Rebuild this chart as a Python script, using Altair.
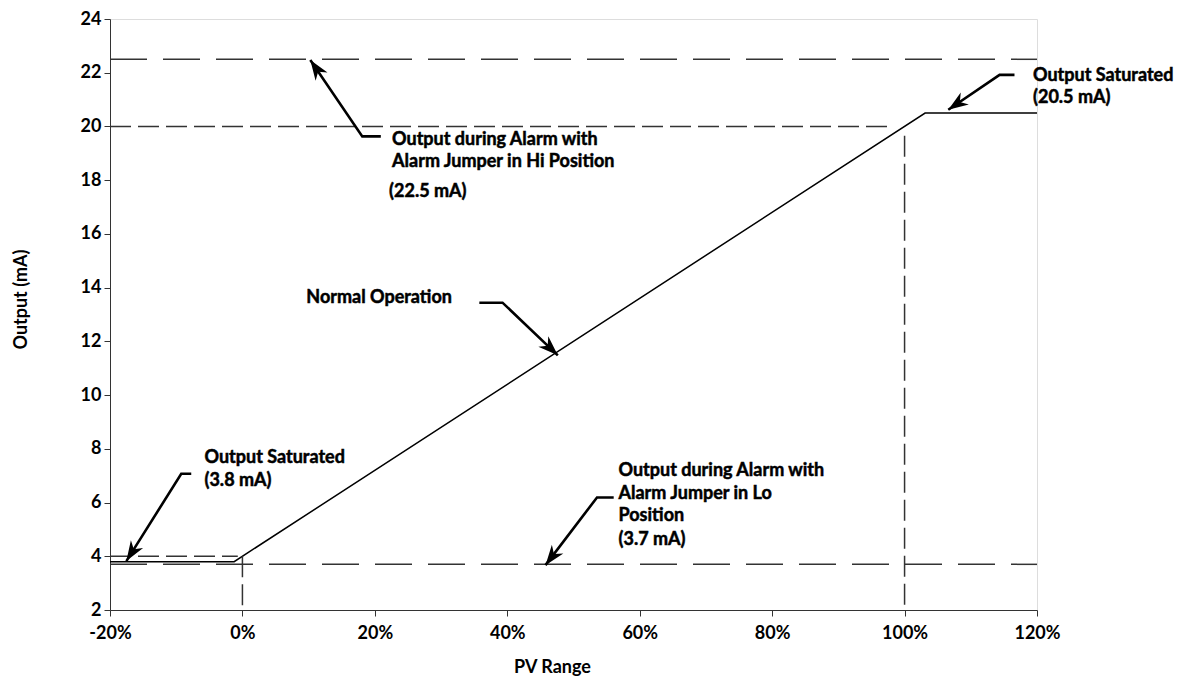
import math
import altair as alt
import pandas as pd

# ---- data ----
x_ticks = [-20, 0, 20, 40, 60, 80, 100, 120]
y_ticks = [2, 4, 6, 8, 10, 12, 14, 16, 18, 20, 22, 24]

# main transfer curve (PV %, mA)
curve_x = [-20, -1.25, 103.1, 120]
curve_y = [3.8, 3.8, 20.5, 20.5]

# reference (dashed) lines: x1, x2, y1, y2, pattern
ref_x1 = [-20, -20, -20, -20, 0, 100]
ref_x2 = [120, 98, 120, -0.7, 0, 100]
ref_y1 = [22.5, 20.0, 3.7, 4.0, 4.0, 19.65]
ref_y2 = [22.5, 20.0, 3.7, 4.0, 2.0, 2.0]
ref_pat = ["long", "short", "long", "short", "short", "short"]

# annotation leaders: (x, y) from text end -> elbow -> tip
arrows = {
    "hi":    [(20.9, 19.63), (18.1, 19.63), (10.25, 22.47)],
    "sat20": [(116.6, 21.92), (114.35, 21.92), (106.6, 20.62)],
    "norm":  [(35.78, 13.44), (39.28, 13.44), (47.63, 11.48)],
    "sat38": [(-7.73, 7.07), (-9.24, 7.07), (-17.53, 3.82)],
    "lo":    [(56.07, 6.19), (53.55, 6.19), (45.77, 3.67)],
}

label_text = [
    "Output during Alarm with", "Alarm Jumper in Hi Position", "(22.5 mA)",
    "Output Saturated", "(20.5 mA)",
    "Normal Operation",
    "Output Saturated", "(3.8 mA)",
    "Output during Alarm with", "Alarm Jumper in Lo", "Position", "(3.7 mA)",
]
label_x = [22.6, 22.6, 22.15, 119.4, 119.4, 9.65, -5.73, -5.73, 56.8, 56.8, 56.8, 56.8]
label_y = [19.50, 18.68, 17.57, 21.86, 21.05, 13.63, 7.65, 6.81, 7.18, 6.31, 5.49, 4.59]

# ---- layout ----
W, H = 927, 591
XMIN, XMAX, YMIN, YMAX = -20, 120, 2, 24
FONT = "Lato"
WT = "bold"

xs = alt.Scale(domain=[XMIN, XMAX], nice=False, zero=False)
ys = alt.Scale(domain=[YMIN, YMAX], nice=False, zero=False)

curve_df = pd.DataFrame({"x": curve_x, "y": curve_y, "o": range(len(curve_x))})
ref_df = pd.DataFrame({"x": ref_x1, "x2": ref_x2, "y": ref_y1, "y2": ref_y2, "pat": ref_pat})

rows, heads = [], []
for k, pts in arrows.items():
    for i, (px, py) in enumerate(pts):
        rows.append({"id": k, "o": i, "x": px, "y": py})
    (ex, ey), (tx, ty) = pts[-2], pts[-1]
    dx = (tx - ex) * W / (XMAX - XMIN)
    dys = -(ty - ey) * H / (YMAX - YMIN)
    ang = math.degrees(math.atan2(dx, -dys)) % 360
    heads.append({"x": tx, "y": ty, "ang": ang})
arrow_df = pd.DataFrame(rows)
head_df = pd.DataFrame(heads)
label_df = pd.DataFrame({"t": label_text, "x": label_x, "y": label_y})

x_axis = alt.Axis(
    values=x_ticks, labelExpr="datum.value + '%'", title="PV Range",
    grid=False, tickSize=6, labelPadding=8, labelFontSize=18, labelFont=FONT,
    labelFontWeight=WT, labelColor="black", titleFont=FONT, titleFontSize=18,
    titleFontWeight=WT, titleColor="black", domainColor="#333", tickColor="#333",
    titleX=442, titleY=57, titleBaseline="middle", labelFlush=False,
)
y_axis = alt.Axis(
    values=y_ticks, title="Output (mA)", grid=False, tickSize=6, labelPadding=3,
    labelFontSize=18, labelFont=FONT, labelFontWeight=WT, labelColor="black",
    titleFont=FONT, titleFontSize=18, titleFontWeight=WT, titleColor="black",
    domainColor="#333", tickColor="#333", titleX=-89, titleY=280,
    titleBaseline="middle", titleAngle=270, labelFlush=False,
)

base = alt.Chart(curve_df)

curve = base.mark_line(color="black", strokeWidth=1.5).encode(
    x=alt.X("x:Q", scale=xs, axis=x_axis),
    y=alt.Y("y:Q", scale=ys, axis=y_axis),
    order="o:Q",
)

dash = {"long": [37, 16], "short": [21, 7]}
ref_layers = []
for p, d in dash.items():
    ref_layers.append(
        alt.Chart(ref_df).transform_filter(alt.datum.pat == p)
        .mark_rule(color="#333", strokeWidth=1.5, strokeDash=d)
        .encode(x=alt.X("x:Q", scale=xs), x2="x2:Q", y=alt.Y("y:Q", scale=ys), y2="y2:Q")
    )

leaders = alt.Chart(arrow_df).mark_line(color="black", strokeWidth=2.6).encode(
    x=alt.X("x:Q", scale=xs), y=alt.Y("y:Q", scale=ys), detail="id:N", order="o:Q"
)

head_shape = "M0,0 L0.36,1 L0,0.7 L-0.36,1 Z"
arrowheads = alt.Chart(head_df).mark_point(
    shape=head_shape, filled=True, color="black", size=1600, opacity=1, strokeWidth=0
).encode(
    x=alt.X("x:Q", scale=xs), y=alt.Y("y:Q", scale=ys), angle=alt.Angle("ang:Q", scale=None)
)

labels = alt.Chart(label_df).mark_text(
    align="left", baseline="middle", font=FONT, fontSize=18, fontWeight=WT,
    color="black", stroke="black", strokeWidth=0.5
).encode(x=alt.X("x:Q", scale=xs), y=alt.Y("y:Q", scale=ys), text="t:N")

chart = alt.layer(curve, *ref_layers, leaders, arrowheads, labels).properties(
    width=W, height=H,
    autosize=alt.AutoSizeParams(type="none"),
    padding={"left": 102, "top": 11, "right": 157, "bottom": 70},
).configure_view(stroke=None).configure(background="white")

chart.save("out.html", embed_options={"renderer": "svg", "actions": False})
